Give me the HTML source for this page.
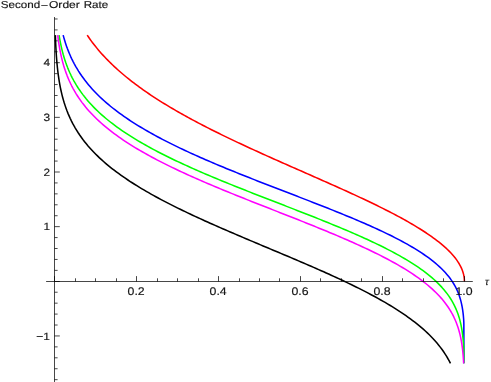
<!DOCTYPE html>
<html><head><meta charset="utf-8"><style>
html,body{margin:0;padding:0;background:#fff;}
svg{display:block;}
text{text-rendering:geometricPrecision;}
text{font-family:"Liberation Sans",sans-serif;font-size:10px;fill:#151515;stroke:#151515;stroke-width:0.15px;}
</style></head><body>
<div style="will-change:transform;width:491px;height:382px;overflow:hidden">
<svg width="491" height="382" viewBox="0 0 491 382">
<rect width="491" height="382" fill="#fff"/>
<g>
<path d="M87.20,35.15 L88.51,37.06 L89.84,38.95 L91.19,40.83 L92.58,42.68 L93.98,44.52 L95.42,46.33 L96.88,48.13 L98.36,49.90 L99.87,51.66 L101.39,53.39 L102.94,55.11 L104.51,56.81 L106.10,58.49 L107.72,60.15 L109.34,61.79 L110.99,63.41 L112.66,65.02 L114.34,66.61 L116.04,68.17 L117.76,69.73 L119.49,71.26 L121.23,72.78 L122.99,74.28 L124.76,75.77 L126.55,77.24 L128.35,78.69 L130.16,80.13 L131.98,81.55 L133.82,82.96 L135.67,84.35 L137.52,85.74 L139.39,87.10 L141.26,88.46 L143.15,89.80 L145.04,91.12 L146.95,92.44 L148.86,93.74 L150.78,95.03 L152.70,96.31 L154.64,97.58 L156.58,98.84 L158.53,100.08 L160.48,101.32 L162.45,102.54 L164.41,103.76 L166.39,104.96 L168.37,106.16 L170.35,107.34 L172.35,108.52 L174.34,109.69 L176.34,110.85 L178.35,112.00 L180.36,113.14 L182.38,114.28 L184.40,115.41 L186.42,116.53 L188.45,117.64 L190.48,118.75 L192.51,119.84 L194.55,120.94 L196.60,122.02 L198.64,123.10 L200.69,124.17 L202.74,125.24 L204.80,126.30 L206.86,127.35 L208.92,128.40 L210.99,129.45 L213.05,130.49 L215.12,131.52 L217.19,132.55 L219.27,133.57 L221.34,134.59 L223.42,135.60 L225.50,136.61 L227.59,137.62 L229.67,138.62 L231.76,139.62 L233.85,140.61 L235.94,141.60 L238.03,142.59 L240.13,143.57 L242.22,144.55 L244.32,145.53 L246.42,146.50 L248.52,147.47 L250.62,148.44 L252.72,149.40 L254.82,150.36 L256.93,151.32 L259.03,152.28 L261.14,153.23 L263.25,154.19 L265.36,155.14 L267.47,156.09 L269.58,157.03 L271.69,157.98 L273.80,158.92 L275.91,159.86 L278.03,160.80 L280.14,161.74 L282.26,162.68 L284.37,163.62 L286.49,164.55 L288.60,165.49 L290.72,166.42 L292.83,167.35 L294.95,168.29 L297.07,169.22 L299.18,170.15 L301.30,171.08 L303.42,172.02 L305.54,172.95 L307.65,173.88 L309.77,174.81 L311.89,175.74 L314.00,176.68 L316.12,177.61 L318.24,178.55 L320.35,179.48 L322.47,180.42 L324.58,181.35 L326.70,182.29 L328.81,183.23 L330.92,184.17 L333.03,185.12 L335.15,186.06 L337.26,187.01 L339.37,187.96 L341.47,188.91 L343.58,189.86 L345.69,190.82 L347.79,191.77 L349.90,192.74 L352.00,193.70 L354.10,194.67 L356.20,195.64 L358.30,196.61 L360.40,197.59 L362.49,198.57 L364.58,199.56 L366.67,200.55 L368.76,201.54 L370.85,202.54 L372.93,203.54 L375.01,204.55 L377.09,205.57 L379.17,206.59 L381.24,207.62 L383.31,208.65 L385.37,209.69 L387.44,210.74 L389.50,211.79 L391.55,212.85 L393.60,213.92 L395.65,215.00 L397.69,216.09 L399.73,217.18 L401.76,218.29 L403.79,219.40 L405.81,220.53 L407.82,221.66 L409.83,222.81 L411.83,223.97 L413.82,225.15 L415.81,226.34 L417.79,227.54 L419.75,228.75 L421.71,229.99 L423.66,231.23 L425.59,232.50 L427.52,233.79 L429.43,235.09 L431.32,236.42 L433.20,237.76 L435.06,239.13 L436.91,240.53 L438.73,241.95 L440.54,243.40 L442.31,244.88 L444.06,246.40 L445.78,247.94 L447.47,249.52 L449.12,251.14 L450.73,252.80 L452.29,254.51 L453.81,256.26 L455.26,258.06 L456.64,259.91 L457.95,261.82 L459.18,263.78 L460.31,265.80 L461.33,267.88 L462.22,270.01 L462.98,272.19 L463.59,274.42 L464.04,276.69 L464.31,278.99 L464.40,281.30" fill="none" stroke="#ff0000" stroke-width="1.55" stroke-linejoin="round"/>
<path d="M63.16,35.15 L63.90,37.86 L64.69,40.55 L65.53,43.22 L66.43,45.88 L67.38,48.52 L68.39,51.13 L69.46,53.73 L70.58,56.30 L71.76,58.84 L73.00,61.36 L74.30,63.85 L75.65,66.30 L77.07,68.72 L78.53,71.11 L80.06,73.47 L81.63,75.79 L83.26,78.07 L84.94,80.32 L86.67,82.53 L88.44,84.70 L90.26,86.84 L92.12,88.94 L94.02,91.00 L95.96,93.02 L97.94,95.01 L99.95,96.97 L102.00,98.89 L104.07,100.77 L106.18,102.62 L108.32,104.44 L110.48,106.23 L112.66,107.99 L114.87,109.72 L117.10,111.42 L119.36,113.09 L121.63,114.73 L123.92,116.35 L126.23,117.94 L128.55,119.51 L130.89,121.05 L133.25,122.58 L135.62,124.08 L138.00,125.55 L140.40,127.01 L142.81,128.45 L145.23,129.87 L147.66,131.27 L150.10,132.65 L152.55,134.02 L155.01,135.37 L157.48,136.70 L159.95,138.02 L162.43,139.32 L164.93,140.61 L167.42,141.89 L169.93,143.15 L172.44,144.40 L174.96,145.64 L177.48,146.86 L180.01,148.08 L182.54,149.28 L185.08,150.47 L187.62,151.66 L190.17,152.83 L192.72,153.99 L195.28,155.15 L197.84,156.29 L200.40,157.43 L202.97,158.56 L205.54,159.68 L208.12,160.79 L210.69,161.90 L213.27,163.00 L215.86,164.10 L218.44,165.18 L221.03,166.26 L223.62,167.34 L226.21,168.41 L228.81,169.48 L231.40,170.54 L234.00,171.59 L236.60,172.64 L239.21,173.69 L241.81,174.73 L244.41,175.77 L247.02,176.81 L249.63,177.84 L252.24,178.87 L254.85,179.89 L257.46,180.92 L260.07,181.94 L262.69,182.96 L265.30,183.98 L267.92,184.99 L270.53,186.00 L273.15,187.02 L275.76,188.03 L278.38,189.04 L281.00,190.04 L283.61,191.05 L286.23,192.06 L288.85,193.07 L291.47,194.08 L294.08,195.09 L296.70,196.09 L299.32,197.10 L301.93,198.11 L304.55,199.13 L307.17,200.14 L309.78,201.15 L312.40,202.17 L315.01,203.19 L317.62,204.21 L320.23,205.23 L322.84,206.26 L325.45,207.29 L328.06,208.32 L330.67,209.36 L333.27,210.40 L335.87,211.44 L338.48,212.49 L341.07,213.55 L343.67,214.61 L346.27,215.67 L348.86,216.74 L351.45,217.82 L354.03,218.91 L356.62,220.00 L359.20,221.10 L361.78,222.20 L364.35,223.32 L366.92,224.44 L369.48,225.58 L372.05,226.72 L374.60,227.88 L377.15,229.04 L379.70,230.22 L382.24,231.41 L384.77,232.61 L387.30,233.83 L389.82,235.06 L392.33,236.31 L394.83,237.58 L397.33,238.86 L399.81,240.16 L402.29,241.48 L404.75,242.82 L407.20,244.19 L409.64,245.58 L412.06,246.99 L414.47,248.43 L416.86,249.90 L419.23,251.40 L421.58,252.93 L423.91,254.49 L426.21,256.09 L428.49,257.73 L430.73,259.41 L432.94,261.14 L435.12,262.91 L437.25,264.73 L439.34,266.60 L441.38,268.53 L443.36,270.51 L445.28,272.56 L447.12,274.67 L448.90,276.84 L450.59,279.08 L452.18,281.39 L453.68,283.76 L455.08,286.19 L456.37,288.68 L457.54,291.23 L458.60,293.83 L459.54,296.47 L460.37,299.15 L461.09,301.86 L461.71,304.59 L462.24,307.35 L462.68,310.12 L463.05,312.90 L463.35,315.69 L463.59,318.48 L463.78,321.28 L463.85,324.08 L463.85,326.89 L463.85,329.69 L463.85,332.50 L463.85,335.30 L463.85,338.11 L463.85,340.91 L463.85,343.72 L463.85,346.52 L463.85,349.33 L463.85,352.13 L463.85,354.94 L463.85,357.74 L463.85,360.55 L463.85,363.35" fill="none" stroke="#0000ff" stroke-width="1.55" stroke-linejoin="round"/>
<path d="M59.07,35.15 L59.53,37.91 L60.02,40.67 L60.56,43.42 L61.14,46.16 L61.76,48.89 L62.44,51.61 L63.16,54.32 L63.94,57.01 L64.77,59.68 L65.66,62.34 L66.61,64.97 L67.62,67.59 L68.69,70.18 L69.81,72.74 L71.00,75.28 L72.25,77.78 L73.57,80.26 L74.94,82.70 L76.37,85.11 L77.86,87.48 L79.41,89.81 L81.02,92.11 L82.67,94.37 L84.38,96.59 L86.14,98.77 L87.95,100.91 L89.80,103.01 L91.69,105.07 L93.63,107.10 L95.60,109.09 L97.61,111.04 L99.66,112.95 L101.73,114.83 L103.84,116.67 L105.98,118.48 L108.15,120.26 L110.34,122.01 L112.55,123.72 L114.79,125.41 L117.05,127.07 L119.33,128.69 L121.62,130.30 L123.94,131.87 L126.27,133.42 L128.62,134.95 L130.98,136.46 L133.36,137.94 L135.75,139.40 L138.15,140.84 L140.57,142.26 L142.99,143.66 L145.43,145.04 L147.88,146.41 L150.33,147.75 L152.80,149.08 L155.27,150.40 L157.75,151.70 L160.24,152.99 L162.74,154.26 L165.24,155.52 L167.75,156.76 L170.26,158.00 L172.78,159.22 L175.31,160.43 L177.84,161.62 L180.38,162.81 L182.92,163.99 L185.47,165.16 L188.02,166.32 L190.57,167.47 L193.13,168.61 L195.69,169.74 L198.26,170.86 L200.83,171.98 L203.40,173.09 L205.97,174.19 L208.55,175.29 L211.13,176.38 L213.72,177.46 L216.30,178.54 L218.89,179.61 L221.48,180.68 L224.07,181.74 L226.67,182.80 L229.26,183.85 L231.86,184.90 L234.46,185.94 L237.06,186.99 L239.66,188.02 L242.26,189.06 L244.87,190.09 L247.47,191.12 L250.08,192.14 L252.69,193.16 L255.30,194.19 L257.91,195.20 L260.52,196.22 L263.13,197.24 L265.74,198.25 L268.35,199.27 L270.96,200.28 L273.57,201.29 L276.19,202.30 L278.80,203.31 L281.41,204.33 L284.02,205.34 L286.63,206.35 L289.25,207.36 L291.86,208.38 L294.47,209.39 L297.08,210.41 L299.69,211.42 L302.30,212.44 L304.91,213.46 L307.51,214.49 L310.12,215.51 L312.73,216.54 L315.33,217.58 L317.93,218.61 L320.53,219.65 L323.13,220.69 L325.73,221.74 L328.33,222.79 L330.92,223.85 L333.51,224.91 L336.10,225.98 L338.69,227.05 L341.28,228.13 L343.86,229.21 L346.44,230.30 L349.02,231.40 L351.59,232.51 L354.16,233.62 L356.73,234.75 L359.29,235.88 L361.85,237.02 L364.40,238.17 L366.95,239.33 L369.49,240.51 L372.03,241.69 L374.56,242.89 L377.09,244.10 L379.61,245.32 L382.13,246.56 L384.63,247.81 L387.13,249.08 L389.62,250.36 L392.10,251.66 L394.57,252.98 L397.03,254.32 L399.48,255.68 L401.91,257.06 L404.34,258.47 L406.75,259.90 L409.14,261.35 L411.52,262.84 L413.88,264.35 L416.22,265.89 L418.54,267.46 L420.83,269.06 L423.10,270.70 L425.34,272.38 L427.56,274.10 L429.74,275.86 L431.88,277.66 L433.99,279.51 L436.05,281.40 L438.06,283.35 L440.03,285.35 L441.94,287.40 L443.78,289.51 L445.56,291.67 L447.27,293.89 L448.90,296.16 L450.45,298.50 L451.92,300.88 L453.29,303.33 L454.57,305.82 L455.75,308.36 L456.84,310.94 L457.83,313.56 L458.73,316.21 L459.53,318.89 L460.25,321.60 L460.88,324.33 L461.43,327.08 L461.91,329.84 L462.33,332.61 L462.69,335.39 L462.99,338.17 L463.25,340.96 L463.46,343.75 L463.64,346.55 L463.79,349.35 L463.85,352.15 L463.85,354.95 L463.85,357.75 L463.85,360.55 L463.85,363.35" fill="none" stroke="#00ff00" stroke-width="1.55" stroke-linejoin="round"/>
<path d="M57.72,35.15 L58.06,37.92 L58.43,40.69 L58.83,43.46 L59.27,46.22 L59.75,48.97 L60.27,51.71 L60.84,54.45 L61.45,57.17 L62.11,59.89 L62.82,62.59 L63.58,65.28 L64.40,67.95 L65.27,70.60 L66.21,73.24 L67.20,75.85 L68.26,78.43 L69.37,81.00 L70.55,83.53 L71.79,86.03 L73.09,88.51 L74.45,90.94 L75.87,93.35 L77.36,95.72 L78.89,98.05 L80.49,100.34 L82.14,102.60 L83.84,104.81 L85.59,106.99 L87.39,109.13 L89.23,111.23 L91.12,113.29 L93.05,115.31 L95.02,117.29 L97.02,119.24 L99.06,121.15 L101.13,123.02 L103.23,124.86 L105.36,126.67 L107.52,128.44 L109.71,130.18 L111.91,131.90 L114.15,133.58 L116.40,135.23 L118.67,136.86 L120.96,138.46 L123.27,140.03 L125.60,141.58 L127.94,143.10 L130.29,144.60 L132.66,146.08 L135.05,147.54 L137.44,148.98 L139.85,150.40 L142.27,151.79 L144.70,153.18 L147.13,154.54 L149.58,155.89 L152.04,157.22 L154.50,158.53 L156.98,159.83 L159.46,161.12 L161.94,162.39 L164.44,163.65 L166.94,164.89 L169.45,166.13 L171.96,167.35 L174.48,168.56 L177.00,169.76 L179.53,170.95 L182.06,172.13 L184.60,173.30 L187.14,174.46 L189.68,175.61 L192.23,176.75 L194.79,177.89 L197.34,179.01 L199.90,180.13 L202.46,181.25 L205.03,182.35 L207.60,183.45 L210.17,184.55 L212.74,185.63 L215.32,186.72 L217.90,187.79 L220.48,188.86 L223.06,189.93 L225.64,190.99 L228.23,192.05 L230.81,193.10 L233.40,194.15 L235.99,195.20 L238.59,196.24 L241.18,197.28 L243.77,198.32 L246.37,199.36 L248.96,200.39 L251.56,201.42 L254.16,202.45 L256.76,203.47 L259.36,204.50 L261.96,205.52 L264.56,206.54 L267.16,207.57 L269.76,208.59 L272.36,209.61 L274.96,210.63 L277.56,211.65 L280.16,212.67 L282.76,213.69 L285.36,214.71 L287.96,215.73 L290.56,216.76 L293.16,217.78 L295.76,218.81 L298.35,219.84 L300.95,220.87 L303.55,221.90 L306.14,222.94 L308.74,223.97 L311.33,225.02 L313.92,226.06 L316.51,227.11 L319.10,228.16 L321.68,229.21 L324.27,230.27 L326.85,231.34 L329.43,232.41 L332.01,233.48 L334.59,234.56 L337.16,235.65 L339.73,236.74 L342.30,237.84 L344.87,238.95 L347.43,240.06 L349.99,241.19 L352.54,242.32 L355.09,243.46 L357.64,244.60 L360.18,245.76 L362.72,246.93 L365.25,248.11 L367.78,249.30 L370.30,250.50 L372.82,251.71 L375.33,252.94 L377.83,254.18 L380.33,255.43 L382.82,256.70 L385.30,257.99 L387.77,259.29 L390.23,260.61 L392.69,261.95 L395.13,263.30 L397.56,264.68 L399.98,266.08 L402.38,267.50 L404.77,268.95 L407.15,270.42 L409.51,271.92 L411.85,273.44 L414.17,274.99 L416.47,276.58 L418.75,278.20 L421.00,279.85 L423.23,281.53 L425.43,283.26 L427.60,285.02 L429.73,286.83 L431.82,288.67 L433.88,290.57 L435.89,292.51 L437.85,294.49 L439.76,296.53 L441.62,298.62 L443.41,300.76 L445.14,302.96 L446.80,305.20 L448.39,307.50 L449.90,309.85 L451.32,312.25 L452.67,314.70 L453.92,317.20 L455.09,319.74 L456.16,322.32 L457.15,324.93 L458.05,327.57 L458.87,330.25 L459.61,332.94 L460.26,335.66 L460.85,338.39 L461.36,341.13 L461.82,343.89 L462.21,346.66 L462.56,349.43 L462.85,352.21 L463.11,354.99 L463.33,357.77 L463.51,360.56 L463.67,363.35" fill="none" stroke="#ff00ff" stroke-width="1.55" stroke-linejoin="round"/>
<path d="M55.36,35.15 L55.45,37.89 L55.55,40.64 L55.67,43.38 L55.80,46.13 L55.94,48.87 L56.10,51.61 L56.27,54.35 L56.47,57.09 L56.68,59.83 L56.91,62.56 L57.17,65.30 L57.45,68.03 L57.76,70.76 L58.09,73.48 L58.46,76.20 L58.86,78.92 L59.29,81.63 L59.76,84.34 L60.27,87.04 L60.82,89.73 L61.42,92.41 L62.06,95.08 L62.75,97.73 L63.49,100.38 L64.28,103.01 L65.13,105.62 L66.03,108.22 L66.98,110.79 L67.99,113.34 L69.07,115.87 L70.19,118.37 L71.38,120.85 L72.63,123.30 L73.93,125.71 L75.29,128.10 L76.71,130.45 L78.18,132.77 L79.70,135.05 L81.28,137.30 L82.90,139.52 L84.58,141.69 L86.30,143.83 L88.06,145.94 L89.87,148.00 L91.72,150.04 L93.60,152.03 L95.53,153.99 L97.48,155.92 L99.47,157.82 L101.49,159.68 L103.54,161.50 L105.61,163.30 L107.71,165.07 L109.84,166.81 L111.99,168.52 L114.16,170.20 L116.35,171.86 L118.56,173.49 L120.79,175.09 L123.03,176.67 L125.30,178.23 L127.57,179.76 L129.86,181.28 L132.17,182.77 L134.49,184.24 L136.82,185.70 L139.16,187.13 L141.51,188.55 L143.87,189.95 L146.24,191.33 L148.63,192.70 L151.02,194.05 L153.41,195.39 L155.82,196.71 L158.23,198.02 L160.65,199.32 L163.08,200.60 L165.51,201.88 L167.95,203.14 L170.40,204.39 L172.85,205.63 L175.31,206.85 L177.77,208.07 L180.23,209.28 L182.70,210.48 L185.18,211.67 L187.65,212.86 L190.14,214.03 L192.62,215.20 L195.11,216.36 L197.60,217.51 L200.10,218.66 L202.60,219.80 L205.10,220.93 L207.60,222.06 L210.11,223.18 L212.62,224.30 L215.13,225.41 L217.64,226.52 L220.16,227.62 L222.67,228.72 L225.19,229.81 L227.71,230.90 L230.23,231.99 L232.75,233.08 L235.28,234.16 L237.80,235.24 L240.33,236.31 L242.86,237.39 L245.39,238.46 L247.92,239.53 L250.45,240.59 L252.98,241.66 L255.51,242.73 L258.04,243.79 L260.57,244.85 L263.10,245.92 L265.63,246.98 L268.17,248.04 L270.70,249.10 L273.23,250.17 L275.76,251.23 L278.29,252.29 L280.82,253.36 L283.36,254.42 L285.89,255.49 L288.42,256.56 L290.94,257.63 L293.47,258.70 L296.00,259.78 L298.52,260.86 L301.05,261.94 L303.57,263.02 L306.09,264.11 L308.62,265.20 L311.13,266.29 L313.65,267.39 L316.17,268.49 L318.68,269.59 L321.19,270.70 L323.70,271.82 L326.21,272.94 L328.71,274.07 L331.21,275.20 L333.71,276.34 L336.21,277.49 L338.70,278.64 L341.19,279.80 L343.67,280.97 L346.15,282.15 L348.63,283.33 L351.10,284.52 L353.57,285.73 L356.04,286.94 L358.50,288.16 L360.95,289.40 L363.40,290.64 L365.84,291.90 L368.27,293.17 L370.70,294.45 L373.12,295.74 L375.54,297.05 L377.94,298.38 L380.34,299.72 L382.73,301.07 L385.11,302.44 L387.48,303.83 L389.83,305.24 L392.18,306.67 L394.51,308.11 L396.83,309.58 L399.14,311.07 L401.43,312.58 L403.71,314.12 L405.97,315.68 L408.21,317.27 L410.43,318.88 L412.63,320.52 L414.81,322.19 L416.97,323.89 L419.10,325.63 L421.20,327.39 L423.28,329.19 L425.32,331.03 L427.33,332.90 L429.30,334.81 L431.23,336.76 L433.13,338.75 L434.98,340.78 L436.78,342.85 L438.53,344.96 L440.24,347.12 L441.88,349.31 L443.47,351.55 L445.00,353.83 L446.47,356.15 L447.87,358.51 L449.21,360.91 L450.47,363.35" fill="none" stroke="#000000" stroke-width="1.55" stroke-linejoin="round"/>
</g>
<g stroke="#000000" stroke-width="1" stroke-opacity="0.72" fill="none">
<line x1="46.1" y1="281.50" x2="472.8" y2="281.50"/>
<line x1="54.50" y1="17" x2="54.50" y2="382"/>
<line x1="54.50" y1="281.50" x2="54.50" y2="276.10"/>
<line x1="75.50" y1="281.50" x2="75.50" y2="278.30"/>
<line x1="95.50" y1="281.50" x2="95.50" y2="278.30"/>
<line x1="116.50" y1="281.50" x2="116.50" y2="278.30"/>
<line x1="136.50" y1="281.50" x2="136.50" y2="276.10"/>
<line x1="157.50" y1="281.50" x2="157.50" y2="278.30"/>
<line x1="177.50" y1="281.50" x2="177.50" y2="278.30"/>
<line x1="198.50" y1="281.50" x2="198.50" y2="278.30"/>
<line x1="218.50" y1="281.50" x2="218.50" y2="276.10"/>
<line x1="239.50" y1="281.50" x2="239.50" y2="278.30"/>
<line x1="259.50" y1="281.50" x2="259.50" y2="278.30"/>
<line x1="279.50" y1="281.50" x2="279.50" y2="278.30"/>
<line x1="300.50" y1="281.50" x2="300.50" y2="276.10"/>
<line x1="320.50" y1="281.50" x2="320.50" y2="278.30"/>
<line x1="341.50" y1="281.50" x2="341.50" y2="278.30"/>
<line x1="361.50" y1="281.50" x2="361.50" y2="278.30"/>
<line x1="382.50" y1="281.50" x2="382.50" y2="276.10"/>
<line x1="402.50" y1="281.50" x2="402.50" y2="278.30"/>
<line x1="423.50" y1="281.50" x2="423.50" y2="278.30"/>
<line x1="443.50" y1="281.50" x2="443.50" y2="278.30"/>
<line x1="464.50" y1="281.50" x2="464.50" y2="276.10"/>
<line x1="54.50" y1="379.67" x2="57.60" y2="379.67"/>
<line x1="54.50" y1="368.74" x2="57.60" y2="368.74"/>
<line x1="54.50" y1="357.81" x2="57.60" y2="357.81"/>
<line x1="54.50" y1="346.88" x2="57.60" y2="346.88"/>
<line x1="54.50" y1="335.95" x2="59.80" y2="335.95"/>
<line x1="54.50" y1="325.02" x2="57.60" y2="325.02"/>
<line x1="54.50" y1="314.09" x2="57.60" y2="314.09"/>
<line x1="54.50" y1="303.16" x2="57.60" y2="303.16"/>
<line x1="54.50" y1="292.23" x2="57.60" y2="292.23"/>
<line x1="54.50" y1="281.50" x2="59.80" y2="281.50"/>
<line x1="54.50" y1="270.37" x2="57.60" y2="270.37"/>
<line x1="54.50" y1="259.44" x2="57.60" y2="259.44"/>
<line x1="54.50" y1="248.51" x2="57.60" y2="248.51"/>
<line x1="54.50" y1="237.58" x2="57.60" y2="237.58"/>
<line x1="54.50" y1="226.65" x2="59.80" y2="226.65"/>
<line x1="54.50" y1="215.72" x2="57.60" y2="215.72"/>
<line x1="54.50" y1="204.79" x2="57.60" y2="204.79"/>
<line x1="54.50" y1="193.86" x2="57.60" y2="193.86"/>
<line x1="54.50" y1="182.93" x2="57.60" y2="182.93"/>
<line x1="54.50" y1="172.00" x2="59.80" y2="172.00"/>
<line x1="54.50" y1="161.07" x2="57.60" y2="161.07"/>
<line x1="54.50" y1="150.14" x2="57.60" y2="150.14"/>
<line x1="54.50" y1="139.21" x2="57.60" y2="139.21"/>
<line x1="54.50" y1="128.28" x2="57.60" y2="128.28"/>
<line x1="54.50" y1="117.35" x2="59.80" y2="117.35"/>
<line x1="54.50" y1="106.42" x2="57.60" y2="106.42"/>
<line x1="54.50" y1="95.49" x2="57.60" y2="95.49"/>
<line x1="54.50" y1="84.56" x2="57.60" y2="84.56"/>
<line x1="54.50" y1="73.63" x2="57.60" y2="73.63"/>
<line x1="54.50" y1="62.70" x2="59.80" y2="62.70"/>
<line x1="54.50" y1="51.77" x2="57.60" y2="51.77"/>
<line x1="54.50" y1="40.84" x2="57.60" y2="40.84"/>
<line x1="54.50" y1="29.91" x2="57.60" y2="29.91"/>
<line x1="54.50" y1="18.98" x2="57.60" y2="18.98"/>
</g>
<g>
<text x="136.16" y="294.95" text-anchor="middle" textLength="17.1" lengthAdjust="spacingAndGlyphs" style="font-size:11px">0.2</text>
<text x="218.12" y="294.95" text-anchor="middle" textLength="17.1" lengthAdjust="spacingAndGlyphs" style="font-size:11px">0.4</text>
<text x="300.08" y="294.95" text-anchor="middle" textLength="17.1" lengthAdjust="spacingAndGlyphs" style="font-size:11px">0.6</text>
<text x="382.04" y="294.95" text-anchor="middle" textLength="17.1" lengthAdjust="spacingAndGlyphs" style="font-size:11px">0.8</text>
<text x="464.00" y="294.95" text-anchor="middle" textLength="17.1" lengthAdjust="spacingAndGlyphs" style="font-size:11px">1.0</text>
<text x="50.0" y="66.25" text-anchor="end" textLength="6.6" lengthAdjust="spacingAndGlyphs" style="font-size:10.6px">4</text>
<text x="50.0" y="120.90" text-anchor="end" textLength="6.6" lengthAdjust="spacingAndGlyphs" style="font-size:10.6px">3</text>
<text x="50.0" y="175.55" text-anchor="end" textLength="6.6" lengthAdjust="spacingAndGlyphs" style="font-size:10.6px">2</text>
<text x="50.0" y="230.20" text-anchor="end" textLength="6.6" lengthAdjust="spacingAndGlyphs" style="font-size:10.6px">1</text>
<text x="50.0" y="339.50" text-anchor="end" textLength="13.7" lengthAdjust="spacingAndGlyphs" style="font-size:10.6px">−1</text>
</g>
<g id="title">
<text x="0.8" y="8.35" textLength="39.5" lengthAdjust="spacingAndGlyphs">Second</text>
<text x="40.8" y="9.1" textLength="7.4" lengthAdjust="spacingAndGlyphs">−</text>
<text x="49.0" y="8.35" textLength="30.8" lengthAdjust="spacingAndGlyphs">Order</text>
<text x="83.7" y="8.35" textLength="24.6" lengthAdjust="spacingAndGlyphs">Rate</text>
</g>
<text x="484.9" y="285" textLength="3.8" lengthAdjust="spacingAndGlyphs" style="font-style:italic">τ</text>
</svg>
</div>
</body></html>
